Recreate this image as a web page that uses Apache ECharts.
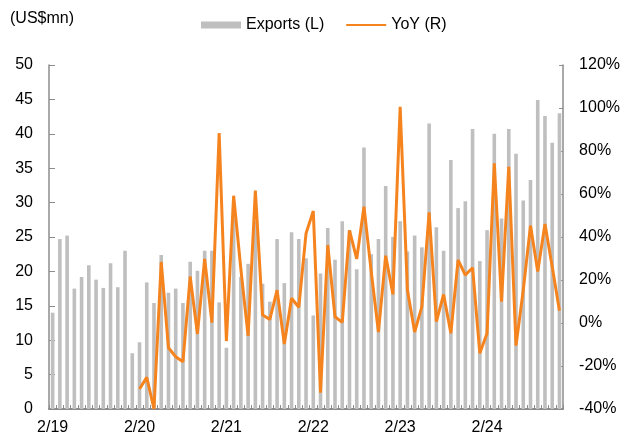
<!DOCTYPE html>
<html>
<head>
<meta charset="utf-8">
<script src="https://cdn.jsdelivr.net/npm/echarts@6/dist/echarts.min.js"></script>
<style>html,body{margin:0;padding:0;background:#fff}#c{width:623px;height:439px}</style>
</head>
<body>
<div id="c"></div>
<script>
// Monthly categories Feb 2019 .. Dec 2024
const categories = [
  '2/19','3/19','4/19','5/19','6/19','7/19','8/19','9/19','10/19','11/19','12/19',
  '1/20','2/20','3/20','4/20','5/20','6/20','7/20','8/20','9/20','10/20','11/20','12/20',
  '1/21','2/21','3/21','4/21','5/21','6/21','7/21','8/21','9/21','10/21','11/21','12/21',
  '1/22','2/22','3/22','4/22','5/22','6/22','7/22','8/22','9/22','10/22','11/22','12/22',
  '1/23','2/23','3/23','4/23','5/23','6/23','7/23','8/23','9/23','10/23','11/23','12/23',
  '1/24','2/24','3/24','4/24','5/24','6/24','7/24','8/24','9/24','10/24','11/24','12/24'
];
// Exports (US$mn), left axis
const exportsValues = [
  14.0, 24.7, 25.2, 17.5, 19.2, 20.9, 18.8, 17.6, 21.2, 17.7, 23.0,
  8.1, 9.7, 18.4, 15.4, 22.4, 16.9, 17.5, 15.4, 21.4, 20.1, 23.0, 23.0,
  15.5, 8.9, 29.3, 19.2, 21.1, 27.3, 18.2, 15.6, 24.7, 18.3, 25.7, 24.7,
  21.9, 13.6, 19.7, 26.3, 21.7, 27.3, 26.0, 20.3, 38.0, 22.5, 24.7, 32.4,
  25.0, 27.3, 22.9, 25.2, 23.5, 41.5, 26.4, 23.0, 36.2, 29.2, 30.2, 40.7,
  21.5, 26.0, 40.0, 27.7, 40.7, 37.1, 30.3, 33.3, 44.9, 42.6, 38.7, 43.0
];
// YoY (%), right axis
const yoyValues = [
  null, null, null, null, null, null, null, null, null, null, null,
  null, -30.7, -25.3, -40, 28.4, -11.5, -15.7, -18.0, 21.6, -5.1, 29.8, 0.2,
  88.4, -8.4, 59.2, 25.0, -6.0, 61.6, 3.7, 1.7, 15.3, -9.8, 11.5, 7.3,
  41.7, 52.1, -32.4, 36.3, 2.9, 0.3, 43.1, 29.8, 54.1, 24.0, -4.2, 31.3,
  13.3, 100.6, 15.3, -4.2, 7.6, 51.5, 0.6, 13.3, -4.8, 29.3, 22.3, 25.7,
  -14.1, -4.8, 74.3, 9.9, 72.7, -10.5, 15.3, 45.3, 23.9, 46.0, 26.2, 5.7
];
const leftTicks = {min: 0, max: 50, interval: 5};
const rightTicks = {min: -40, max: 120, interval: 20};

const FONT = "'Liberation Sans', Arial, sans-serif";
const AXIS_COLOR = '#8c8c8c';
const chart = echarts.init(document.getElementById('c'), null, {renderer: 'canvas'});
chart.setOption({
  animation: false,
  backgroundColor: '#fff',
  textStyle: {fontFamily: FONT, color: '#000'},
  graphic: [{
    type: 'text', left: 10, top: 11,
    style: {text: '(US$mn)', font: '16px ' + FONT, fill: '#000'}
  }],
  legend: {
    left: 196, top: 12,
    itemWidth: 40, itemHeight: 7, itemGap: 21,
    textStyle: {fontSize: 16, fontFamily: FONT, color: '#000'},
    data: [
      {name: 'Exports (L)', icon: 'rect'},
      {name: 'YoY (R)', itemStyle: {opacity: 0}}
    ]
  },
  grid: {left: 49, right: 57, top: 65, bottom: 30, containLabel: false},
  xAxis: {
    type: 'category',
    data: categories,
    boundaryGap: true,
    axisLine: {lineStyle: {color: AXIS_COLOR, width: 2}},
    axisTick: {show: true, inside: true, length: 4, interval: 0, lineStyle: {color: AXIS_COLOR}},
    axisLabel: {
      interval: function (idx, val) { return val.indexOf('2/') === 0; },
      fontSize: 16, fontFamily: FONT, color: '#000', margin: 11
    },
    splitLine: {show: false}
  },
  yAxis: [{
    type: 'value', position: 'left',
    min: leftTicks.min, max: leftTicks.max, interval: leftTicks.interval,
    axisLine: {show: true, lineStyle: {color: AXIS_COLOR, width: 1.5}},
    axisTick: {show: true, inside: true, length: 6, lineStyle: {color: AXIS_COLOR}},
    axisLabel: {fontSize: 16, fontFamily: FONT, color: '#000', margin: 16},
    splitLine: {show: false}
  }, {
    type: 'value', position: 'right',
    min: rightTicks.min, max: rightTicks.max, interval: rightTicks.interval,
    axisLine: {show: true, lineStyle: {color: AXIS_COLOR, width: 1.5}},
    axisTick: {show: true, inside: true, length: 4, lineStyle: {color: AXIS_COLOR}},
    axisLabel: {fontSize: 16, fontFamily: FONT, color: '#000', margin: 16, formatter: '{value}%'},
    splitLine: {show: false}
  }],
  series: [{
    name: 'Exports (L)',
    type: 'bar',
    yAxisIndex: 0,
    data: exportsValues,
    barWidth: 3.6,
    itemStyle: {color: '#bfbfbf'}
  }, {
    name: 'YoY (R)',
    type: 'line',
    yAxisIndex: 1,
    data: yoyValues,
    symbol: 'none',
    connectNulls: false,
    lineStyle: {color: '#f5841f', width: 3},
    itemStyle: {color: '#f5841f'}
  }]
});
</script>
</body>
</html>
